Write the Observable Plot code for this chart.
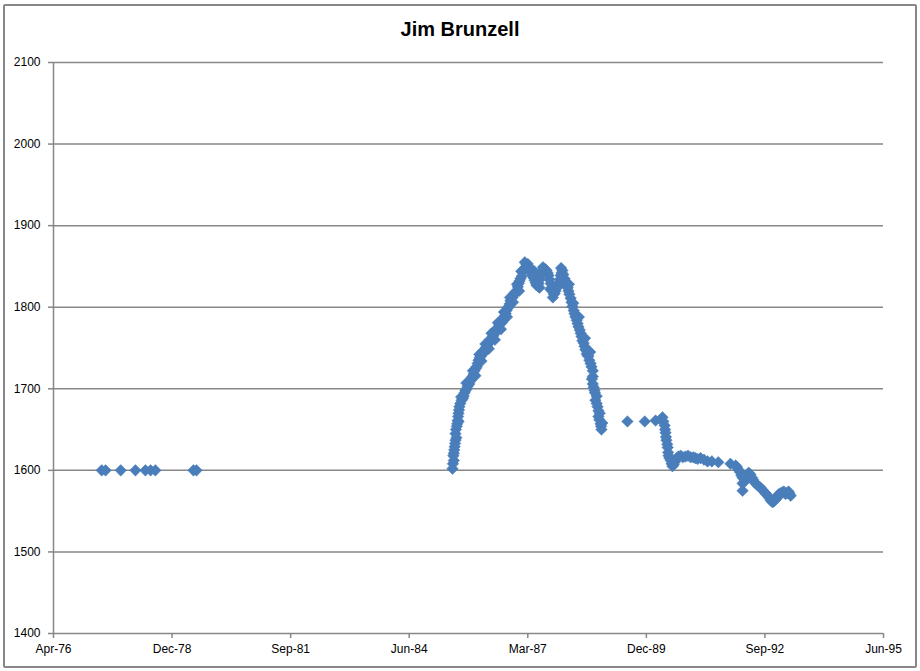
<!DOCTYPE html>
<html>
<head>
<meta charset="utf-8">
<script src="https://cdn.jsdelivr.net/npm/d3@7"></script>
<script src="https://cdn.jsdelivr.net/npm/@observablehq/plot@0.6"></script>
<style>
  html, body { margin: 0; padding: 0; background: #fff; }
  #wrap { position: relative; width: 920px; height: 671px; overflow: hidden; }
  #frame { position: absolute; left: 3px; top: 4px; width: 910px; height: 660px; border: 2px solid #878787; border-radius: 2px; pointer-events: none; }
  #title { position: absolute; left: 0; width: 920px; top: 18px; text-align: center; font: bold 20px "Liberation Sans", Arial, sans-serif; color: #000; }
  #chart { position: absolute; left: 0; top: 0; }
</style>
</head>
<body>
<div id="wrap">
  <div id="chart"></div>
  <div id="title">Jim Brunzell</div>
  <div id="frame"></div>
</div>
<script>
// Rating vs. date (dates given as decimal years)
const years = [
  1977.36, 1977.45, 1977.80, 1978.14, 1978.37, 1978.49, 1978.60, 1979.48, 1979.55,
  1985.46, 1985.49, 1985.49, 1985.51, 1985.53, 1985.53, 1985.56, 1985.58, 1985.60, 1985.62,
  1985.67, 1985.72, 1985.76, 1985.81, 1985.88, 1985.92, 1985.97, 1986.02, 1986.06, 1986.11,
  1986.16, 1986.20, 1986.25, 1986.29, 1986.34, 1986.39, 1986.43, 1986.48, 1986.52, 1986.57,
  1986.62, 1986.66, 1986.71, 1986.76, 1986.80, 1986.85, 1986.89, 1986.94, 1986.99, 1987.03,
  1987.08, 1987.12, 1987.17, 1987.22, 1987.26, 1987.31, 1987.36, 1987.40, 1987.45, 1987.50,
  1987.54, 1987.59, 1987.63, 1987.68, 1987.73, 1987.77, 1987.82, 1987.86, 1987.91, 1987.96,
  1988.00, 1988.05, 1988.10, 1988.14, 1988.19, 1988.23, 1988.28, 1988.33, 1988.37, 1988.42,
  1988.46, 1988.51, 1988.56, 1988.60, 1988.65, 1988.70, 1988.70, 1988.70, 1988.74, 1988.79,
  1988.79, 1988.83, 1988.83, 1988.88, 1988.90,
  1989.50, 1989.90, 1990.15, 1990.27, 1990.31,
  1990.36, 1990.38, 1990.40, 1990.43, 1990.45, 1990.50, 1990.54, 1990.59, 1990.64, 1990.73,
  1990.84, 1990.96, 1991.07, 1991.19, 1991.35, 1991.60, 1991.88, 1992.00, 1992.06, 1992.16,
  1992.16, 1992.16, 1992.30, 1992.34, 1992.41, 1992.48, 1992.57, 1992.67, 1992.74, 1992.81,
  1992.85, 1992.92, 1992.97, 1993.04, 1993.11, 1993.15, 1993.22, 1993.27,
  1985.47, 1985.50, 1985.52, 1985.54, 1985.57, 1985.59, 1985.61, 1985.64, 1985.70, 1985.74,
  1985.79, 1985.85, 1985.90, 1985.95, 1986.00, 1986.04, 1986.09, 1986.14, 1986.18, 1986.23,
  1986.27, 1986.32, 1986.37, 1986.41, 1986.46, 1986.50, 1986.55, 1986.60, 1986.64, 1986.69,
  1986.74, 1986.78, 1986.83, 1986.87, 1986.92, 1986.97, 1987.01, 1987.06, 1987.10, 1987.15,
  1987.20, 1987.24, 1987.28, 1987.33, 1987.38, 1987.43, 1987.48, 1987.52, 1987.57, 1987.61,
  1987.66, 1987.70, 1987.75, 1987.80, 1987.84, 1987.89, 1987.94, 1987.98, 1988.02, 1988.07,
  1988.12, 1988.16, 1988.21, 1988.26, 1988.30, 1988.35, 1988.40, 1988.44, 1988.49, 1988.53,
  1988.58, 1988.62, 1988.67, 1988.72, 1988.76, 1988.81, 1988.85, 1988.89,
  1990.33, 1990.37, 1990.39, 1990.42, 1990.44, 1990.47, 1990.52, 1990.57, 1990.62, 1990.68,
  1990.78, 1990.90, 1991.02, 1991.12, 1991.27, 1991.45, 1992.03, 1992.10, 1992.13, 1992.20,
  1992.25, 1992.38, 1992.44, 1992.52, 1992.62, 1992.70, 1992.78, 1992.88, 1992.95, 1993.00,
  1993.08, 1993.18, 1993.24,
  1985.48, 1985.55, 1985.60, 1985.66, 1985.78, 1985.93, 1986.08, 1986.22, 1986.36, 1986.51,
  1986.65, 1986.79, 1986.95, 1987.05, 1987.13, 1987.35, 1987.47, 1987.55, 1987.72, 1987.78,
  1987.97, 1988.15, 1988.25, 1988.38, 1988.52, 1988.64, 1988.68, 1988.75, 1988.86, 1988.92,
  1985.99, 1986.13, 1986.30, 1986.44, 1986.58, 1986.72, 1986.86, 1987.00
];
const ratings = [
  1600, 1600, 1600, 1600, 1600, 1600, 1600, 1600, 1600,
  1602, 1612, 1621, 1629, 1637, 1645, 1654, 1661, 1670, 1678,
  1686, 1691, 1698, 1703, 1710, 1715, 1722, 1727, 1735, 1740,
  1743, 1747, 1752, 1756, 1759, 1764, 1768, 1771, 1776, 1780,
  1784, 1789, 1796, 1801, 1808, 1812, 1817, 1820, 1829, 1835,
  1843, 1847, 1852, 1850, 1845, 1839, 1833, 1827, 1829, 1839,
  1845, 1847, 1845, 1839, 1829, 1820, 1817, 1823, 1829, 1839,
  1845, 1835, 1827, 1820, 1811, 1801, 1792, 1784, 1776, 1768,
  1759, 1752, 1743, 1740, 1731, 1722, 1715, 1706, 1698, 1691,
  1682, 1673, 1666, 1657, 1650,
  1660, 1660, 1661, 1662, 1665,
  1655, 1646, 1637, 1628, 1618, 1612, 1605, 1610, 1615, 1618,
  1617, 1616, 1615, 1615, 1611, 1610, 1608, 1606, 1601, 1591,
  1584, 1575, 1597, 1595, 1588, 1583, 1579, 1573, 1569, 1563,
  1561, 1564, 1569, 1572, 1574, 1571, 1574, 1569,
  1608, 1625, 1633, 1650, 1657, 1666, 1674, 1682, 1688, 1695,
  1700, 1706, 1713, 1718, 1725, 1731, 1738, 1745, 1744, 1750,
  1754, 1760, 1762, 1766, 1772, 1774, 1779, 1781, 1787, 1792,
  1799, 1804, 1812, 1815, 1819, 1825, 1832, 1838, 1846, 1849,
  1853, 1848, 1842, 1836, 1830, 1826, 1834, 1842, 1846, 1846,
  1842, 1834, 1824, 1816, 1820, 1826, 1834, 1842, 1840, 1832,
  1824, 1816, 1806, 1796, 1788, 1780, 1772, 1764, 1756, 1748,
  1741, 1735, 1727, 1702, 1686, 1678, 1662, 1654,
  1660, 1650, 1641, 1632, 1622, 1615, 1608, 1607, 1613, 1617,
  1616, 1618, 1616, 1614, 1613, 1611, 1604, 1598, 1594, 1586,
  1593, 1591, 1585, 1581, 1576, 1571, 1566, 1562, 1566, 1571,
  1573, 1572, 1572,
  1618, 1640, 1660, 1690, 1707, 1722, 1742, 1755, 1768, 1781,
  1794, 1812, 1828, 1844, 1855, 1844, 1824, 1849, 1822, 1812,
  1848, 1828, 1805, 1788, 1762, 1745, 1712, 1695, 1670, 1658,
  1716, 1734, 1749, 1760, 1773, 1788, 1806, 1820
];
const xTickDates = ["1976-04-01", "1978-12-27", "1981-09-22", "1984-06-18", "1987-03-15", "1989-12-09", "1992-09-04", "1995-06-01"];
const xTickLabels = ["Apr-76", "Dec-78", "Sep-81", "Jun-84", "Mar-87", "Dec-89", "Sep-92", "Jun-95"];
const yTicks = [1400, 1500, 1600, 1700, 1800, 1900, 2000, 2100];

function yearToDate(y) {
  const yr = Math.floor(y);
  const s = Date.UTC(yr, 0, 1), e = Date.UTC(yr + 1, 0, 1);
  return new Date(s + (y - yr) * (e - s));
}
const data = years.map((y, i) => ({date: yearToDate(y), rating: ratings[i]}));
const xTicks = xTickDates.map(s => new Date(s + "T00:00:00Z"));
const labelMap = new Map(xTicks.map((d, i) => [+d, xTickLabels[i]]));
const grid = "#878787";

const chart = Plot.plot({
  width: 920,
  height: 671,
  marginLeft: 53,
  marginRight: 37,
  marginTop: 62,
  marginBottom: 38,
  style: {fontFamily: "'Liberation Sans', Arial, sans-serif", fontSize: "12px", background: "transparent", color: "#000"},
  x: {type: "utc", domain: [xTicks[0], xTicks[xTicks.length - 1]], label: null},
  y: {domain: [1400, 2100], label: null},
  marks: [
    Plot.gridY(yTicks.filter(d => d > 1400), {stroke: grid, strokeOpacity: 1, strokeWidth: 1.5}),
    Plot.ruleY([1400], {stroke: grid, strokeWidth: 1.5}),
    Plot.ruleX([xTicks[0]], {stroke: grid, strokeWidth: 1.5}),
    Plot.axisX({ticks: xTicks, tickFormat: d => labelMap.get(+d), tickSize: 5, tickPadding: 6, stroke: grid, fill: "#000", strokeWidth: 1.5, label: null}),
    Plot.axisY({ticks: yTicks, tickFormat: d => String(d), tickSize: 5, tickPadding: 8, stroke: grid, fill: "#000", strokeWidth: 1.5, label: null}),
    Plot.dot(data, {x: "date", y: "rating", symbol: "diamond2", r: 5.2, fill: "#4a7ebb", stroke: "#4a7ebb", strokeWidth: 0.5})
  ]
});
document.getElementById("chart").appendChild(chart);
</script>
</body>
</html>
